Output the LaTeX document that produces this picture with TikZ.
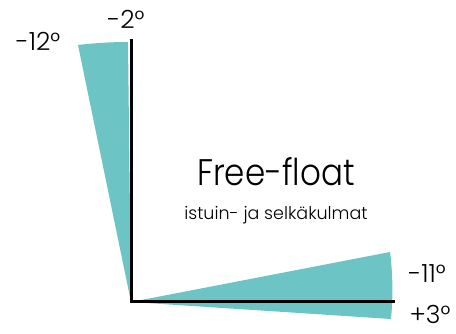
\documentclass[tikz,border=0pt]{standalone}
\usepackage{fontspec}
\setmainfont{Poppins}[UprightFont=* Light]
\definecolor{teal1}{RGB}{108,196,196}
\begin{document}
\begin{tikzpicture}[x=1pt,y=-1pt,
  wedge/.style={fill=teal1,draw=none},
  axis/.style={line width=3pt,black},
  lbl/.style={font=\fontsize{25}{27}\selectfont,inner sep=0pt}]
\useasboundingbox (0,0) rectangle (456,334);
\coordinate (o) at (131,302);
\coordinate (top) at (131,39);
\coordinate (end) at (395,302);
\fill[wedge] (o) -- (78,45) .. controls (95,43) and (112,42) .. (128,42) -- cycle;
\fill[wedge] (o) -- (390,252) .. controls (393,275) and (393,298) .. (391,319) -- cycle;
\draw[axis] (top) -- (o) -- (end);
\node[lbl] (a12) at (38,41) {-12°};
\node[lbl] (a2) at (126,19) {-2°};
\node[lbl] (a11) at (427,274) {-11°};
\node[lbl] (a3) at (430,314) {+3°};
\node[inner sep=0pt] (title) at (276,172) {\scalebox{0.88}[1]{\fontsize{37}{40}\selectfont Free-float}};
\node[font=\fontsize{17.5}{19}\selectfont,inner sep=0pt] (sub) at (276,215) {istuin- ja selkäkulmat};
\end{tikzpicture}
\end{document}
